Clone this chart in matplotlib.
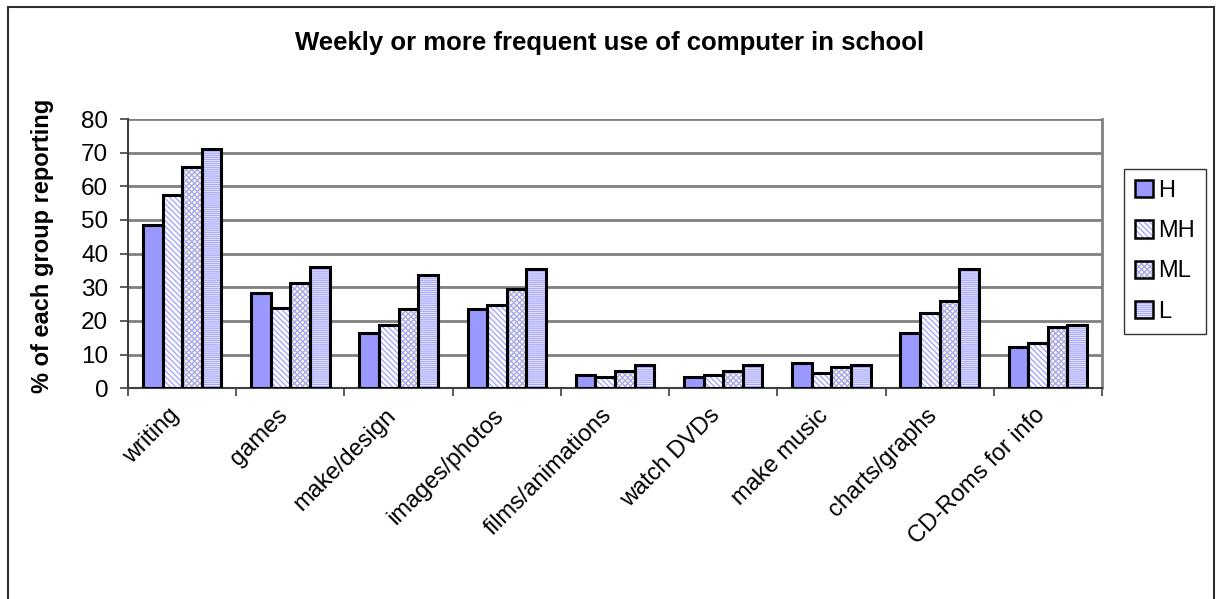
import matplotlib
matplotlib.use("Agg")
import matplotlib.pyplot as plt
from matplotlib.patches import Rectangle, Patch
from matplotlib.transforms import ScaledTranslation
import numpy as np

plt.rcParams['font.family'] = ['Liberation Sans', 'DejaVu Sans']
plt.rcParams['hatch.linewidth'] = 1.0

categories = ["writing", "games", "make/design", "images/photos", "films/animations",
              "watch DVDs", "make music", "charts/graphs", "CD-Roms for info"]
groups = ["H", "MH", "ML", "L"]
H = [48.5, 28.4, 16.5, 23.5, 4.0, 3.5, 7.5, 16.4, 12.3]
MH = [57.4, 24.0, 18.8, 24.8, 3.5, 4.0, 4.5, 22.4, 13.4]
ML = [65.7, 31.3, 23.5, 29.5, 5.1, 5.2, 6.3, 25.9, 18.2]
L = [71.1, 36.0, 33.7, 35.4, 7.0, 7.0, 6.9, 35.4, 18.8]
series = [H, MH, ML, L]

# fill colour, hatch pattern, hatch colour per group
styles = [
    ("#9999FF", None, "#9999FF"),
    ("#FFFFFF", "\\\\\\\\\\\\", "#A8A8FF"),
    ("#FFFFCC", "xxxxxx", "#A8A8FF"),
    ("#FFFFFF", "--------", "#A8A8FF"),
]

W, Hpx = 1216, 599
fig = plt.figure(figsize=(W / 100, Hpx / 100), dpi=100)
ax = fig.add_axes([128 / W, 1 - 388.3 / Hpx, 974 / W, (388.3 - 119) / Hpx])

x = np.arange(len(categories))
bw = 0.181
for i, (vals, (fc, hatch, hc)) in enumerate(zip(series, styles)):
    pos = x + (i - 1.5) * bw
    ax.bar(pos, vals, width=bw, color=fc, hatch=hatch, edgecolor=hc,
           linewidth=0, zorder=3)
    ax.bar(pos, vals, width=bw, facecolor="none", edgecolor="black",
           linewidth=2.2, zorder=4)

ax.set_xlim(-0.5, len(categories) - 0.5)
ax.set_ylim(0, 80)
ax.set_yticks(np.arange(0, 81, 10))
ax.yaxis.grid(True, color="#808080", linewidth=2, zorder=0)
ax.set_axisbelow(True)

# tick marks sit between the categories; names are drawn slanted under each group
ax.set_xticks(np.arange(len(categories) + 1) - 0.5)
ax.set_xticklabels([])
ax.tick_params(axis="x", length=5.8, width=1.2, color="#404040", direction="out")
ax.tick_params(axis="y", length=5.8, width=1.2, color="#404040", labelsize=17.5, pad=8.4)

shift = ScaledTranslation(-14 / 100, -16 / 100, fig.dpi_scale_trans)
for xi, name in zip(x, categories):
    ax.text(xi, 0, name, transform=ax.get_xaxis_transform() + shift,
            rotation=45, rotation_mode="anchor", ha="right", va="top", fontsize=17)

for s in ["left", "bottom"]:
    ax.spines[s].set_color("#404040")
    ax.spines[s].set_linewidth(1.5)
ax.spines["top"].set_visible(False)
ax.spines["right"].set_color("#808080")
ax.spines["right"].set_linewidth(2)

fig.text(42 / W, 1 - 246 / Hpx, "% of each group reporting", rotation=90,
         ha="center", va="center", fontsize=17, fontweight="bold")
fig.text(610 / W, 1 - 43 / Hpx, "Weekly or more frequent use of computer in school",
         ha="center", va="center", fontsize=18.5, fontweight="bold")

# legend keys: blue hatch fill with a black outline drawn on top
handles = [(Patch(facecolor=fc, hatch=h, edgecolor=hc, linewidth=0),
            Patch(facecolor="none", edgecolor="black", linewidth=1.8))
           for fc, h, hc in styles]
leg = ax.legend(handles, groups, loc="upper left",
                bbox_to_anchor=(1124 / W, 1 - 169 / Hpx), bbox_transform=fig.transFigure,
                fontsize=17, frameon=True, fancybox=False, edgecolor="black",
                handlelength=0.76, handleheight=0.76, handletextpad=0.25,
                labelspacing=0.78, borderpad=0.45, borderaxespad=0)
leg.get_frame().set_linewidth(1)

# outer chart frame
fig.patches.append(Rectangle((8 / W, -0.05), (1214 - 8) / W, 1.05 - 7 / Hpx,
                             transform=fig.transFigure, fill=False,
                             edgecolor="#303030", linewidth=1.5))

fig.savefig("out.png", dpi=100)
